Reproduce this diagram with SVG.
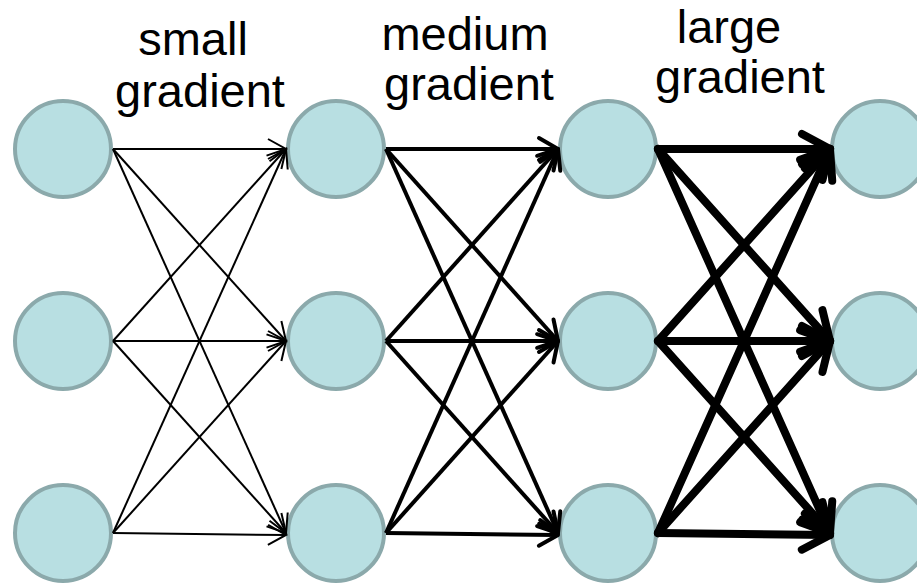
<svg xmlns="http://www.w3.org/2000/svg" width="917" height="584" viewBox="0 0 917 584">
<style>
.node{fill:#b8dfe2;stroke:#8ba9ab;stroke-width:4}
.lbl{font-family:"Liberation Sans",Arial,sans-serif;font-size:47px;fill:#000;text-anchor:middle}
.s{stroke:#000;stroke-width:2;fill:none;marker-end:url(#aS)}
.m{stroke:#000;stroke-width:4;fill:none;marker-end:url(#aM)}
.l{stroke:#000;stroke-width:8;fill:none;marker-end:url(#aL);stroke-linecap:round}
</style>
<defs>
<marker id="aS" markerUnits="userSpaceOnUse" viewBox="-40 -25 45 50" refX="0" refY="0" markerWidth="45" markerHeight="50" orient="auto" overflow="visible">
<path d="M-18,-10 L0,0 L-18,10" fill="none" stroke="#000" stroke-width="2"/>
</marker>
<marker id="aM" markerUnits="userSpaceOnUse" viewBox="-40 -25 45 50" refX="0" refY="0" markerWidth="45" markerHeight="50" orient="auto" overflow="visible">
<path d="M-19,-11 L0,0 L-19,11" fill="none" stroke="#000" stroke-width="4" stroke-linejoin="round" stroke-linecap="round"/>
</marker>
<marker id="aL" markerUnits="userSpaceOnUse" viewBox="-40 -25 45 50" refX="0" refY="0" markerWidth="45" markerHeight="50" orient="auto" overflow="visible">
<path d="M-28,-15 L0,0 L-28,15" fill="none" stroke="#000" stroke-width="8" stroke-linejoin="round" stroke-linecap="round"/>
</marker>
</defs>
<g id="labels">
<text class="lbl" x="193" y="55">small</text>
<text class="lbl" x="200" y="107">gradient</text>
<text class="lbl" x="465" y="50">medium</text>
<text class="lbl" x="469" y="100">gradient</text>
<text class="lbl" x="729" y="43">large</text>
<text class="lbl" x="740" y="93">gradient</text>
</g>
<g id="n1a"><circle class="node" cx="63" cy="149" r="48"/></g>
<g id="n1b"><circle class="node" cx="63" cy="341" r="48"/></g>
<g id="n1c"><circle class="node" cx="63" cy="533" r="48"/></g>
<g id="n2a"><circle class="node" cx="336" cy="149" r="48"/></g>
<g id="n2b"><circle class="node" cx="336" cy="341" r="48"/></g>
<g id="n2c"><circle class="node" cx="336" cy="533" r="48"/></g>
<g id="n3a"><circle class="node" cx="608" cy="149" r="48"/></g>
<g id="n3b"><circle class="node" cx="608" cy="341" r="48"/></g>
<g id="n3c"><circle class="node" cx="608" cy="533" r="48"/></g>
<g id="n4a"><circle class="node" cx="880" cy="149" r="48"/></g>
<g id="n4b"><circle class="node" cx="880" cy="341" r="48"/></g>
<g id="n4c"><circle class="node" cx="880" cy="533" r="48"/></g>
<g id="connectors">
<line class="s" x1="113" y1="149" x2="286" y2="149"/>
<line class="s" x1="113" y1="149" x2="286" y2="341"/>
<line class="s" x1="113" y1="149" x2="286" y2="533"/>
<line class="s" x1="113" y1="341" x2="286" y2="149"/>
<line class="s" x1="113" y1="341" x2="286" y2="341"/>
<line class="s" x1="113" y1="341" x2="286" y2="533"/>
<line class="s" x1="113" y1="533" x2="286" y2="149"/>
<line class="s" x1="113" y1="533" x2="286" y2="341"/>
<line class="s" x1="113" y1="533" x2="286" y2="535"/>
<line class="m" x1="386" y1="149" x2="558" y2="149"/>
<line class="m" x1="386" y1="149" x2="558" y2="341"/>
<line class="m" x1="386" y1="149" x2="558" y2="533"/>
<line class="m" x1="386" y1="341" x2="558" y2="149"/>
<line class="m" x1="386" y1="341" x2="558" y2="341"/>
<line class="m" x1="386" y1="341" x2="558" y2="533"/>
<line class="m" x1="386" y1="533" x2="558" y2="149"/>
<line class="m" x1="386" y1="533" x2="558" y2="341"/>
<line class="m" x1="386" y1="533" x2="558" y2="535"/>
<line class="l" x1="658" y1="149" x2="830" y2="149"/>
<line class="l" x1="658" y1="149" x2="830" y2="341"/>
<line class="l" x1="658" y1="149" x2="830" y2="533"/>
<line class="l" x1="658" y1="341" x2="830" y2="149"/>
<line class="l" x1="658" y1="341" x2="830" y2="341"/>
<line class="l" x1="658" y1="341" x2="830" y2="533"/>
<line class="l" x1="658" y1="533" x2="830" y2="149"/>
<line class="l" x1="658" y1="533" x2="830" y2="341"/>
<line class="l" x1="658" y1="533" x2="830" y2="535"/>
</g>
</svg>
